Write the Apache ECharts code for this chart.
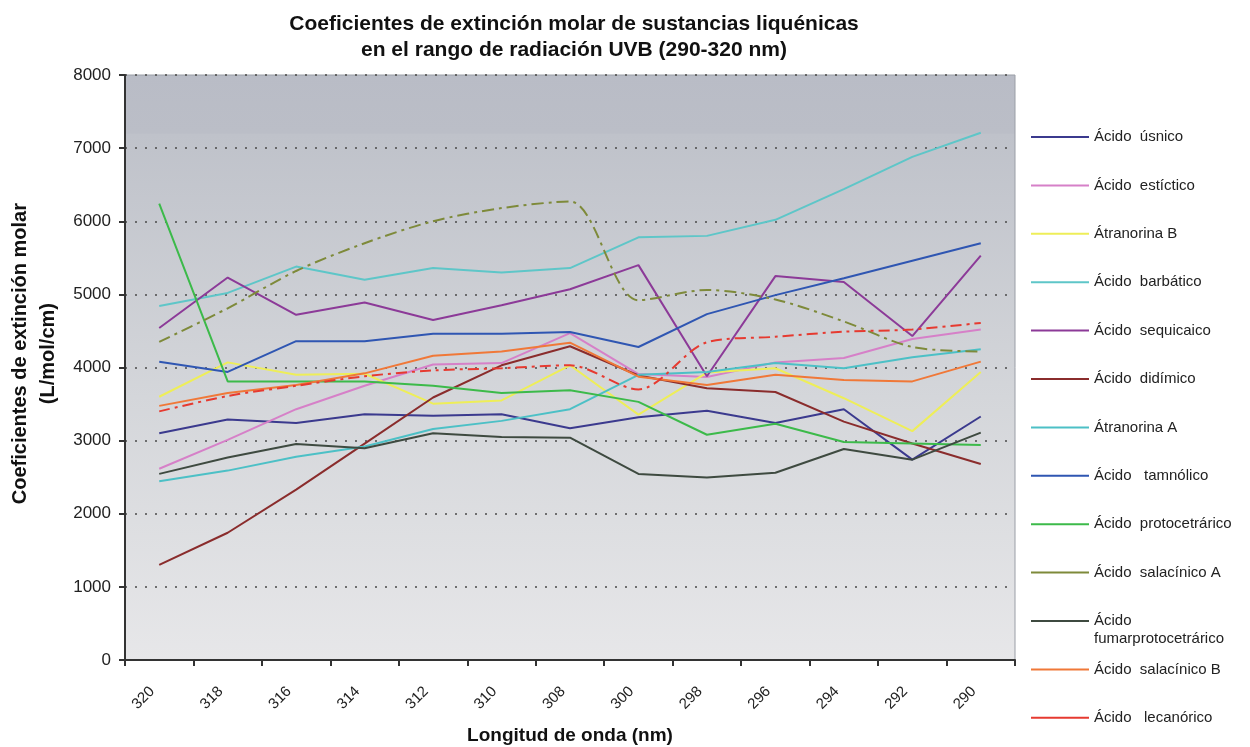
<!DOCTYPE html>
<html>
<head>
<meta charset="utf-8">
<script src="https://cdn.jsdelivr.net/npm/echarts@6/dist/echarts.min.js"></script>
<style>
  html, body { margin: 0; padding: 0; background: #fff; }
  #chart { width: 1250px; height: 747px; }
</style>
</head>
<body>
<div id="chart"></div>
<script>
// longitudes de onda (eje X)
var categories = ['320', '318', '316', '314', '312', '310', '308', '300', '298', '296', '294', '292', '290'];
var yTicks = [0, 1000, 2000, 3000, 4000, 5000, 6000, 7000, 8000];

var usnico = [3100, 3290, 3240, 3360, 3340, 3360, 3170, 3320, 3410, 3240, 3430, 2740, 3330];
var estictico = [2615, 3010, 3430, 3750, 4040, 4060, 4470, 3910, 3870, 4070, 4130, 4390, 4520];
var atranorinaB = [3600, 4070, 3900, 3915, 3505, 3550, 4030, 3355, 3930, 3990, 3580, 3130, 3940];
var barbatico = [4840, 5020, 5380, 5200, 5360, 5300, 5360, 5780, 5800, 6020, 6440, 6880, 7210];
var sequicaico = [4540, 5230, 4720, 4890, 4650, 4850, 5070, 5400, 3880, 5250, 5170, 4430, 5530];
var didimico = [1300, 1740, 2330, 2960, 3590, 4030, 4290, 3890, 3715, 3665, 3260, 2960, 2680];
var atranorinaA = [2445, 2590, 2780, 2920, 3160, 3270, 3430, 3900, 3940, 4060, 3990, 4140, 4250];
var tamnolico = [4080, 3940, 4360, 4360, 4460, 4460, 4485, 4280, 4730, 4990, 5220, 5460, 5700];
var protocetrarico = [6240, 3810, 3810, 3810, 3750, 3650, 3690, 3530, 3080, 3230, 2980, 2960, 2940];
var salacinicoA = [4350, 4810, 5320, 5700, 6000, 6180, 6270, 4920, 5060, 4930, 4630, 4280, 4220];
var fumarprotocetrarico = [2545, 2770, 2955, 2895, 3100, 3050, 3040, 2545, 2495, 2560, 2885, 2740, 3110];
var salacinicoB = [3475, 3650, 3760, 3920, 4160, 4220, 4340, 3875, 3760, 3900, 3830, 3810, 4080];
var lecanorico = [3400, 3610, 3750, 3880, 3960, 3990, 4030, 3700, 4345, 4420, 4490, 4520, 4610];

var names = ['Ácido  úsnico', 'Ácido  estíctico', 'Átranorina B', 'Ácido  barbático', 'Ácido  sequicaico',
  'Ácido  didímico', 'Átranorina A', 'Ácido   tamnólico', 'Ácido  protocetrárico', 'Ácido  salacínico A',
  'Ácido\nfumarprotocetrárico', 'Ácido  salacínico B', 'Ácido   lecanórico'];
var valores = [usnico, estictico, atranorinaB, barbatico, sequicaico, didimico, atranorinaA,
  tamnolico, protocetrarico, salacinicoA, fumarprotocetrarico, salacinicoB, lecanorico];
var colores = ['#3b3a8e', '#d680c8', '#eeee58', '#5ec6c8', '#8c3a98', '#8a2c2c', '#4cc0c6',
  '#2f56b2', '#3cba4a', '#7e8a3a', '#3e4a40', '#f07838', '#e63a30'];
var tipos = ['solid', 'solid', 'solid', 'solid', 'solid', 'solid', 'solid', 'solid', 'solid',
  [12, 5, 3, 5], 'solid', 'solid', [11, 5, 3, 5]];

var fuente = 'Liberation Sans, Arial, sans-serif';
var nb = '\u00a0\u00a0\u00a0\u00a0\u00a0';
var chart = echarts.init(document.getElementById('chart'));

var series = [];
var legends = [];
for (var i = 0; i < names.length; i++) {
  var dashed = tipos[i] !== 'solid';
  var dosLineas = names[i].indexOf('\n') >= 0;
  series.push({
    name: names[i],
    type: 'line',
    data: valores[i],
    symbol: 'none',
    smooth: dashed ? 0.3 : false,
    lineStyle: { color: colores[i], width: 2, type: tipos[i] },
    itemStyle: { color: colores[i] }
  });
  legends.push({
    data: [names[i]],
    left: 1031,
    // el elemento de dos líneas lleva una línea vacía arriba para alinear el icono con "Ácido"
    top: 128 + i * 48.4 - (dosLineas ? 18 : 0),
    padding: 0,
    itemWidth: 58,
    itemHeight: 14,
    icon: 'path://M0,6L58,6L58,8L0,8Z',
    formatter: dosLineas ? function (n) { return ' \n' + n; } : '{name}',
    textStyle: { fontFamily: fuente, fontSize: 15, color: '#222', lineHeight: 18 }
  });
}

var option = {
  backgroundColor: '#fff',
  animation: false,
  title: {
    text: 'Coeficientes de extinción molar de sustancias liquénicas\nen el rango de radiación UVB (290-320 nm)',
    left: 569,
    textAlign: 'center',
    top: 6,
    textStyle: { fontFamily: fuente, fontSize: 21, fontWeight: 'bold', color: '#111', lineHeight: 26 }
  },
  legend: legends,
  grid: {
    left: 125, right: 235, top: 75, bottom: 87,
    outerBoundsMode: 'none',
    containLabel: false,
    show: true,
    borderColor: '#9a9ea6',
    borderWidth: 1,
    backgroundColor: {
      type: 'linear', x: 0, y: 0, x2: 0, y2: 1,
      colorStops: [
        { offset: 0, color: '#b9bcc6' },
        { offset: 0.1, color: '#bbbec7' },
        { offset: 0.102, color: '#bfc2ca' },
        { offset: 0.55, color: '#d4d6da' },
        { offset: 1, color: '#e7e7e9' }
      ]
    }
  },
  xAxis: {
    type: 'category',
    data: categories,
    boundaryGap: true,
    name: 'Longitud de onda (nm)',
    nameLocation: 'middle',
    nameGap: 66,
    nameTextStyle: { fontFamily: fuente, fontSize: 19, fontWeight: 'bold', color: '#111' },
    axisLine: { lineStyle: { color: '#333', width: 2 } },
    axisTick: { show: true, alignWithLabel: false, length: 6, lineStyle: { color: '#333', width: 2 } },
    axisLabel: {
      rotate: 45, margin: 22, padding: [0, 10, 0, 0],
      fontFamily: fuente, fontSize: 15, color: '#222'
    }
  },
  yAxis: {
    type: 'value',
    min: yTicks[0],
    max: yTicks[yTicks.length - 1],
    interval: 1000,
    name: nb + 'Coeficientes de extinción molar\n' + nb + '(L/mol/cm)',
    nameLocation: 'middle',
    nameGap: 61,
    nameTextStyle: { fontFamily: fuente, fontSize: 20, fontWeight: 'bold', color: '#111', lineHeight: 28 },
    axisLine: { show: true, lineStyle: { color: '#333', width: 2 } },
    axisTick: { show: true, length: 6, lineStyle: { color: '#333', width: 2 } },
    axisLabel: {
      margin: 14, fontFamily: fuente, fontSize: 17, color: '#222',
      formatter: function (v) { return String(v); }
    },
    splitLine: { show: true, lineStyle: { color: '#4a4a4a', width: 1.5, type: [2, 8] } }
  },
  series: series
};

chart.setOption(option);

window.onresize = function () {
  chart.resize();
};
</script>
</body>
</html>
